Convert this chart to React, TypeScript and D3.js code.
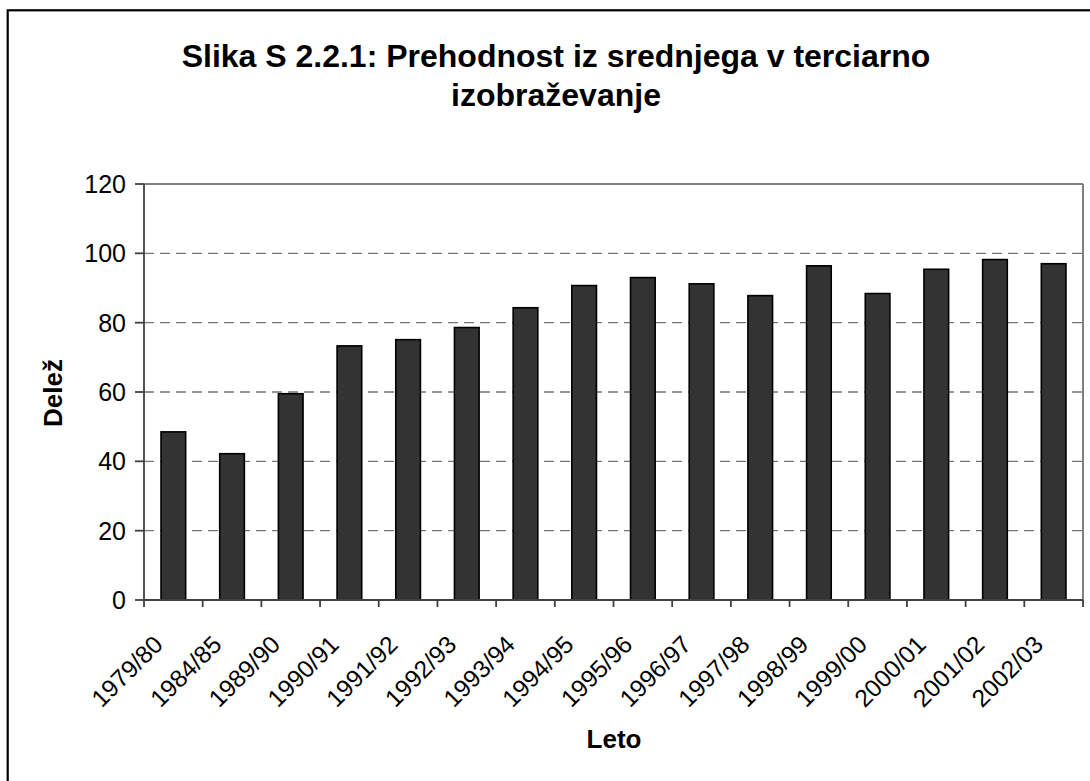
import React from "react";
import * as d3 from "d3";

const categories: string[] = [
  "1979/80", "1984/85", "1989/90", "1990/91", "1991/92", "1992/93", "1993/94", "1994/95",
  "1995/96", "1996/97", "1997/98", "1998/99", "1999/00", "2000/01", "2001/02", "2002/03",
];
const values: number[] = [48.5, 42.2, 59.5, 73.3, 75.1, 78.6, 84.3, 90.7, 93.0, 91.2, 87.8, 96.4, 88.4, 95.4, 98.2, 97.0];
const yTicks: number[] = [0, 20, 40, 60, 80, 100, 120];
const titleLines: string[] = ["Slika S 2.2.1: Prehodnost iz srednjega v terciarno", "izobraževanje"];
const xTitle = "Leto";
const yTitle = "Delež";

const W = 1090;
const H = 781;
const plot = { left: 144, right: 1083, top: 184, bottom: 600 };
const FONT = "'Liberation Sans', Arial, Helvetica, sans-serif";

export default function App() {
  const x = d3.scaleBand<string>().domain(categories).range([plot.left, plot.right]).paddingInner(0.58).paddingOuter(0.29);
  const xb = d3.scaleBand<string>().domain(categories).range([plot.left, plot.right]);
  const y = d3.scaleLinear().domain([0, 120]).range([plot.bottom, plot.top]);

  const tickEdges = categories.map((c) => xb(c) as number).concat([plot.right]);

  return (
    <svg width={W} height={H} style={{ position: "absolute", left: 0, top: 0, background: "#fff" }} fontFamily={FONT}>
      <rect x={0} y={0} width={W} height={H} fill="#fff" />
      <rect x={7.7} y={10.3} width={W + 20} height={H + 20} fill="none" stroke="#000" strokeWidth={2.2} />

      {titleLines.map((t, i) => (
        <text key={i} x={556} y={67 + i * 39} textAnchor="middle" fontSize={32} fontWeight="bold" fill="#000">
          {t}
        </text>
      ))}

      {/* gridlines */}
      {yTicks.filter((v) => v > 0 && v < 120).map((v) => (
        <line key={v} x1={plot.left} x2={plot.right} y1={y(v)} y2={y(v)} stroke="#767676" strokeWidth={1.3} strokeDasharray="10,6" />
      ))}

      {/* plot border top/right */}
      <line x1={plot.left} x2={plot.right} y1={plot.top} y2={plot.top} stroke="#808080" strokeWidth={2} />
      <line x1={plot.right} x2={plot.right} y1={plot.top} y2={plot.bottom} stroke="#808080" strokeWidth={2} />

      {/* bars */}
      {categories.map((c, i) => (
        <rect key={c} x={x(c)} y={y(values[i])} width={x.bandwidth()} height={y(0) - y(values[i])} fill="#333333" stroke="#000" strokeWidth={1.6} />
      ))}

      {/* axes */}
      <line x1={plot.left} x2={plot.left} y1={plot.top} y2={plot.bottom} stroke="#404040" strokeWidth={1.8} />
      <line x1={plot.left} x2={plot.right} y1={plot.bottom} y2={plot.bottom} stroke="#404040" strokeWidth={1.8} />

      {yTicks.map((v) => (
        <g key={v}>
          <line x1={plot.left - 9} x2={plot.left} y1={y(v)} y2={y(v)} stroke="#404040" strokeWidth={1.8} />
          <text x={126} y={y(v)} dy="0.36em" textAnchor="end" fontSize={25} fill="#000">
            {v}
          </text>
        </g>
      ))}

      {tickEdges.map((e, i) => (
        <line key={i} x1={e} x2={e} y1={plot.bottom} y2={plot.bottom + 7} stroke="#404040" strokeWidth={1.8} />
      ))}

      {categories.map((c) => {
        const cx = (xb(c) as number) + xb.bandwidth() / 2 - 9;
        const cy = plot.bottom + 46;
        return (
          <text key={c} x={cx} y={cy} textAnchor="end" fontSize={24.5} fill="#000" transform={`rotate(-45,${cx},${cy})`}>
            {c}
          </text>
        );
      })}

      <text x={614} y={748} textAnchor="middle" fontSize={26} fontWeight="bold" fill="#000">
        {xTitle}
      </text>
      <text x={0} y={0} transform={`translate(62,393) rotate(-90)`} textAnchor="middle" fontSize={26} fontWeight="bold" fill="#000">
        {yTitle}
      </text>
    </svg>
  );
}
